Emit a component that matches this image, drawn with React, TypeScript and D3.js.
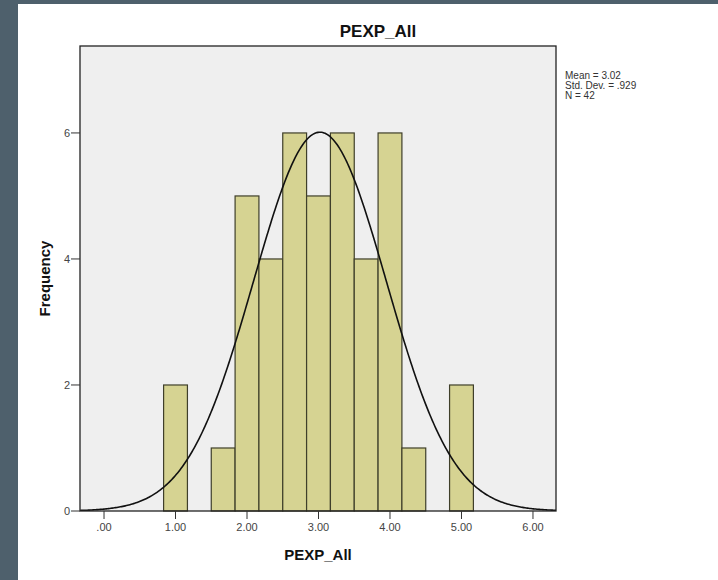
import React from "react";
import * as d3 from "d3";

// Histogram of PEXP_All: bin centres and frequencies (bin width 1/3)
const binCenters = [1, 5 / 3, 2, 7 / 3, 8 / 3, 3, 10 / 3, 11 / 3, 4, 13 / 3, 5];
const counts = [2, 1, 5, 4, 6, 5, 6, 4, 6, 1, 2];
const binWidth = 1 / 3;

const xTicks = [0, 1, 2, 3, 4, 5, 6];
const yTicks = [0, 2, 4, 6];

const mean = 3.02;
const stdDev = 0.929;
const n = 42;
const statLines = ["Mean = 3.02", "Std. Dev. = .929", "N = 42"];

const W = 718;
const H = 580;
const plot = { left: 80, right: 556, top: 46, bottom: 511 };

export default function App() {
  const x = d3.scaleLinear().domain([-0.336, 6.322]).range([plot.left, plot.right]);
  const y = d3.scaleLinear().domain([0, 7.38]).range([plot.bottom, plot.top]);

  const fmt = (d: number) => (d === 0 ? ".00" : d.toFixed(2));

  // normal curve scaled to frequencies
  const scale = n * binWidth;
  const pts = d3.range(0, 401).map((i) => {
    const v = x.domain()[0] + ((x.domain()[1] - x.domain()[0]) * i) / 400;
    const f = (scale / (stdDev * Math.sqrt(2 * Math.PI))) * Math.exp(-0.5 * ((v - mean) / stdDev) ** 2);
    return [v, f] as [number, number];
  });
  const line = d3
    .line<[number, number]>()
    .x((d) => x(d[0]))
    .y((d) => y(d[1]))
    .curve(d3.curveLinear);

  const font = "Arial, 'Liberation Sans', sans-serif";

  return (
    <svg
      width={W}
      height={H}
      style={{ position: "absolute", left: 0, top: 0 }}
      fontFamily={font}
    >
      <rect x={0} y={0} width={W} height={H} fill="#4e606c" />
      <rect x={18} y={4} width={W - 18} height={H - 4} fill="#ffffff" />

      {/* plot background */}
      <rect
        x={plot.left}
        y={plot.top}
        width={plot.right - plot.left}
        height={plot.bottom - plot.top}
        fill="#efefef"
      />

      {/* bars */}
      {binCenters.map((c, i) => (
        <rect
          key={i}
          x={x(c - binWidth / 2)}
          y={y(counts[i])}
          width={x(c + binWidth / 2) - x(c - binWidth / 2)}
          height={y(0) - y(counts[i])}
          fill="#d6d392"
          stroke="#3f3f2a"
          strokeWidth={1.2}
        />
      ))}

      <clipPath id="plotClip">
        <rect
          x={plot.left}
          y={plot.top}
          width={plot.right - plot.left}
          height={plot.bottom - plot.top}
        />
      </clipPath>
      <path d={line(pts) || ""} fill="none" stroke="#111" strokeWidth={1.6} clipPath="url(#plotClip)" />

      {/* frame */}
      <rect
        x={plot.left}
        y={plot.top}
        width={plot.right - plot.left}
        height={plot.bottom - plot.top}
        fill="none"
        stroke="#222"
        strokeWidth={1.3}
      />

      {/* y axis ticks */}
      {yTicks.map((t) => (
        <g key={t}>
          <line x1={plot.left - 9} x2={plot.left} y1={y(t)} y2={y(t)} stroke="#333" strokeWidth={1} />
          <text x={plot.left - 10} y={y(t) + 4} textAnchor="end" fontSize={11} fill="#444">
            {t}
          </text>
        </g>
      ))}

      {/* x axis ticks */}
      {xTicks.map((t) => (
        <g key={t}>
          <line x1={x(t)} x2={x(t)} y1={plot.bottom} y2={plot.bottom + 8} stroke="#333" strokeWidth={1} />
          <text x={x(t)} y={plot.bottom + 20} textAnchor="middle" fontSize={11} fill="#444">
            {fmt(t)}
          </text>
        </g>
      ))}

      {/* titles */}
      <text x={378} y={37} textAnchor="middle" fontSize={17} fontWeight="bold" fill="#111">
        PEXP_All
      </text>
      <text x={(plot.left + plot.right) / 2} y={560} textAnchor="middle" fontSize={15} fontWeight="bold" fill="#111">
        PEXP_All
      </text>
      <text
        transform={`translate(50, ${(plot.top + plot.bottom) / 2}) rotate(-90)`}
        textAnchor="middle"
        fontSize={15}
        fontWeight="bold"
        fill="#111"
      >
        Frequency
      </text>

      {/* summary statistics */}
      {statLines.map((s, i) => (
        <text key={s} x={565} y={79 + i * 10} fontSize={10} fill="#333">
          {s}
        </text>
      ))}
    </svg>
  );
}
